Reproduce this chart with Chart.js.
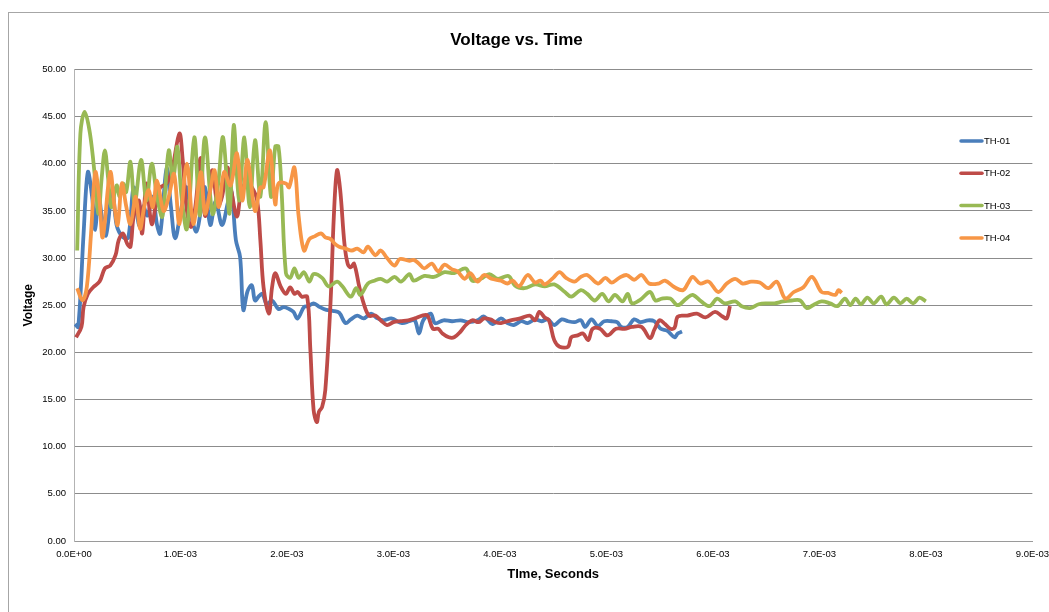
<!DOCTYPE html>
<html>
<head>
<meta charset="utf-8">
<title>Voltage vs. Time</title>
<script src="https://cdn.jsdelivr.net/npm/chart.js@4.4.1/dist/chart.umd.min.js"></script>
<style>
  html, body { margin: 0; padding: 0; background: #fff; }
</style>
</head>
<body>
<canvas id="voltChart" width="1049" height="612"></canvas>
<script>
// Time in milliseconds, voltage in volts: [t, V]
const th01 = [
  [0.01,23.0],[0.04,22.7],[0.09,32.6],[0.13,39.1],[0.17,36.5],[0.20,33.0],[0.23,36.8],[0.26,34.5],[0.30,32.4],[0.36,37.2],
  [0.40,33.5],[0.46,32.2],[0.51,32.2],[0.56,37.5],[0.61,33.5],[0.65,35.5],[0.69,34.5],[0.74,36.5],[0.78,33.5],[0.81,32.6],
  [0.87,39.5],[0.91,35.5],[0.95,32.1],[1.01,35.4],[1.06,37.5],[1.10,34.5],[1.15,32.8],[1.19,35.0],[1.23,37.5],[1.28,33.5],
  [1.33,36.0],[1.39,33.5],[1.45,36.1],[1.48,37.0],[1.52,31.9],[1.56,30.1],[1.59,24.5],[1.63,26.5],[1.67,27.1],[1.70,25.5],
  [1.74,26.0],[1.77,26.2],[1.81,25.1],[1.86,25.5],[1.92,24.6],[1.97,24.8],[2.02,24.6],[2.06,24.3],[2.10,23.6],[2.16,24.8],
  [2.20,24.9],[2.25,25.2],[2.31,24.8],[2.37,24.5],[2.43,24.4],[2.49,24.2],[2.55,23.1],[2.60,23.5],[2.66,23.9],[2.72,23.6],
  [2.79,24.1],[2.85,23.6],[2.91,23.4],[2.98,23.6],[3.08,23.1],[3.15,23.3],[3.20,23.4],[3.24,22.0],[3.28,23.4],[3.35,24.1],
  [3.39,23.1],[3.47,23.4],[3.55,23.3],[3.63,23.4],[3.71,23.2],[3.79,23.4],[3.85,23.8],[3.93,23.0],[4.01,23.6],[4.07,23.1],
  [4.13,22.9],[4.20,23.3],[4.26,23.1],[4.33,23.5],[4.39,23.3],[4.45,23.5],[4.51,22.9],[4.58,23.5],[4.64,23.3],[4.70,23.2],
  [4.76,23.4],[4.80,22.7],[4.86,23.5],[4.92,22.8],[4.98,23.3],[5.05,23.3],[5.10,23.2],[5.14,22.7],[5.20,22.7],[5.26,23.5],
  [5.32,23.2],[5.39,23.4],[5.45,23.3],[5.51,22.5],[5.57,22.3],[5.64,21.6],[5.67,22.0],[5.71,22.2]
];

const th02 = [
  [0.02,21.6],[0.07,22.7],[0.09,24.8],[0.13,26.2],[0.18,26.9],[0.24,27.5],[0.29,28.9],[0.34,29.2],[0.39,30.3],[0.42,31.9],
  [0.46,32.6],[0.50,31.5],[0.53,31.2],[0.56,34.4],[0.61,36.1],[0.64,32.6],[0.68,37.9],[0.73,33.6],[0.78,36.5],[0.81,37.5],
  [0.87,37.9],[0.92,39.3],[0.99,43.2],[1.02,40.5],[1.06,35.0],[1.10,33.3],[1.14,35.5],[1.19,40.6],[1.23,34.5],[1.27,36.5],
  [1.30,39.3],[1.35,35.5],[1.39,36.5],[1.44,39.6],[1.48,37.0],[1.53,34.4],[1.57,37.0],[1.62,38.0],[1.67,37.5],[1.72,36.1],
  [1.75,31.9],[1.78,26.9],[1.83,24.1],[1.86,26.9],[1.89,28.4],[1.94,27.0],[1.99,26.2],[2.03,26.9],[2.07,26.2],[2.10,26.4],
  [2.14,25.9],[2.19,25.9],[2.22,20.2],[2.25,13.9],[2.28,12.6],[2.30,13.7],[2.33,14.2],[2.36,16.0],[2.41,25.5],[2.44,34.4],
  [2.47,39.3],[2.50,37.2],[2.54,31.5],[2.57,29.4],[2.60,29.0],[2.63,29.4],[2.68,26.9],[2.72,25.2],[2.77,23.9],[2.83,23.9],
  [2.88,23.4],[2.94,22.9],[3.00,23.2],[3.07,23.3],[3.14,23.4],[3.20,23.6],[3.27,23.9],[3.32,23.9],[3.37,22.5],[3.42,22.5],
  [3.46,22.0],[3.52,21.6],[3.57,21.6],[3.63,22.2],[3.68,22.9],[3.74,23.4],[3.80,23.2],[3.85,23.6],[3.91,23.5],[3.96,23.2],
  [4.01,23.1],[4.10,23.4],[4.19,23.6],[4.28,23.9],[4.33,23.4],[4.37,24.3],[4.42,23.7],[4.46,23.4],[4.51,21.3],[4.56,20.6],
  [4.64,20.6],[4.67,21.6],[4.73,21.8],[4.78,22.0],[4.83,21.3],[4.87,22.5],[4.94,22.5],[5.01,21.8],[5.09,22.5],[5.17,22.5],
  [5.24,22.7],[5.33,22.7],[5.41,21.5],[5.45,22.4],[5.50,23.4],[5.55,23.0],[5.60,22.5],[5.64,22.6],[5.67,23.8],[5.76,23.9],
  [5.85,24.1],[5.93,23.7],[6.02,24.3],[6.09,23.8],[6.13,23.6],[6.16,24.9]
];

const th03 = [
  [0.03,30.8],[0.06,43.2],[0.10,45.5],[0.15,43.2],[0.20,38.2],[0.23,34.7],[0.26,38.5],[0.29,41.4],[0.32,38.5],[0.35,35.4],
  [0.40,37.7],[0.43,36.5],[0.46,37.9],[0.49,37.0],[0.53,40.2],[0.57,35.8],[0.63,40.4],[0.68,36.1],[0.73,40.0],[0.78,36.5],
  [0.83,34.4],[0.89,41.4],[0.93,38.2],[0.97,41.8],[1.01,36.5],[1.06,33.1],[1.13,42.8],[1.18,34.5],[1.23,42.8],[1.30,34.7],
  [1.35,37.5],[1.40,42.8],[1.46,34.7],[1.50,44.1],[1.55,36.1],[1.60,42.8],[1.65,35.4],[1.70,42.5],[1.75,36.5],[1.80,44.4],
  [1.85,36.5],[1.89,41.8],[1.92,41.8],[1.95,37.0],[1.99,28.4],[2.03,27.9],[2.07,28.9],[2.11,27.9],[2.16,28.5],[2.21,27.5],
  [2.25,28.3],[2.33,27.9],[2.39,27.0],[2.47,27.5],[2.52,27.0],[2.60,25.9],[2.65,26.8],[2.69,26.1],[2.76,27.3],[2.82,27.6],
  [2.88,27.8],[2.94,27.5],[3.01,28.0],[3.07,27.5],[3.15,28.3],[3.19,27.6],[3.29,28.1],[3.38,28.0],[3.48,28.5],[3.57,28.4],
  [3.68,28.9],[3.74,27.6],[3.82,27.8],[3.90,28.3],[3.98,27.8],[4.08,28.1],[4.14,27.1],[4.23,26.8],[4.33,27.2],[4.42,27.0],
  [4.51,27.2],[4.61,26.4],[4.67,25.9],[4.76,26.6],[4.82,26.2],[4.89,25.5],[4.96,26.2],[5.02,25.4],[5.08,26.1],[5.15,25.4],
  [5.20,26.2],[5.24,25.2],[5.32,25.6],[5.41,26.4],[5.46,25.5],[5.52,25.7],[5.60,25.7],[5.67,25.0],[5.75,25.7],[5.81,26.1],
  [5.89,25.4],[5.97,24.9],[6.04,25.7],[6.11,25.2],[6.21,25.4],[6.27,24.9],[6.35,24.7],[6.43,25.1],[6.51,25.2],[6.58,25.2],
  [6.66,25.4],[6.74,25.5],[6.82,25.5],[6.88,24.7],[6.94,25.0],[7.02,25.4],[7.10,25.2],[7.17,24.9],[7.24,25.7],[7.29,25.0],
  [7.34,25.7],[7.39,25.1],[7.45,25.8],[7.51,25.2],[7.58,25.9],[7.63,25.1],[7.70,25.8],[7.76,25.2],[7.82,25.7],[7.88,25.2],
  [7.94,25.8],[8.00,25.4]
];

const th04 = [
  [0.03,26.8],[0.08,25.5],[0.12,26.9],[0.16,32.6],[0.20,39.1],[0.24,36.0],[0.27,32.2],[0.34,39.1],[0.38,35.5],[0.41,33.5],
  [0.45,37.9],[0.49,35.5],[0.53,33.6],[0.58,36.5],[0.62,33.1],[0.66,35.5],[0.70,37.2],[0.74,35.4],[0.78,38.2],[0.84,35.0],
  [0.89,36.5],[0.94,38.9],[0.99,33.6],[1.06,40.0],[1.12,33.6],[1.19,39.1],[1.23,34.7],[1.28,37.2],[1.32,39.3],[1.36,35.4],
  [1.41,39.1],[1.47,37.7],[1.53,41.1],[1.58,36.1],[1.63,40.4],[1.70,35.0],[1.75,37.5],[1.78,37.5],[1.84,41.4],[1.89,35.7],
  [1.92,37.9],[1.99,37.9],[2.02,37.5],[2.07,39.6],[2.11,34.4],[2.16,30.8],[2.21,32.0],[2.26,32.3],[2.32,32.6],[2.36,32.2],
  [2.41,32.0],[2.45,31.5],[2.49,31.2],[2.55,31.0],[2.61,30.8],[2.66,31.0],[2.72,30.6],[2.76,31.2],[2.83,30.3],[2.88,30.8],
  [2.94,30.0],[3.01,29.2],[3.06,29.9],[3.15,29.7],[3.19,29.8],[3.24,29.4],[3.29,28.9],[3.36,29.4],[3.42,28.6],[3.48,29.3],
  [3.55,28.8],[3.60,28.6],[3.67,27.8],[3.72,28.4],[3.79,27.5],[3.85,28.2],[3.92,27.8],[4.01,27.6],[4.07,27.3],[4.12,27.6],
  [4.18,27.0],[4.26,28.2],[4.33,27.4],[4.38,27.6],[4.42,27.2],[4.50,27.9],[4.56,28.5],[4.62,27.9],[4.70,27.5],[4.76,28.0],
  [4.82,28.2],[4.92,27.3],[4.99,27.9],[5.05,27.4],[5.12,27.9],[5.19,28.2],[5.26,27.7],[5.33,28.2],[5.40,27.3],[5.49,27.3],
  [5.55,27.6],[5.64,26.9],[5.72,26.6],[5.77,27.4],[5.81,28.0],[5.88,27.3],[5.96,27.5],[6.05,26.4],[6.13,27.3],[6.21,27.8],
  [6.28,27.3],[6.36,27.5],[6.44,27.4],[6.52,26.8],[6.60,27.5],[6.68,25.7],[6.76,26.4],[6.85,26.9],[6.93,28.0],[7.02,26.4],
  [7.08,26.3],[7.15,26.1],[7.18,26.6],[7.21,26.3]
];

const seriesNames = ['TH-01', 'TH-02', 'TH-03', 'TH-04'];
const seriesData = [th01, th02, th03, th04];
const seriesColors = ['#4A7EBB', '#BE4B48', '#98B954', '#F79646'];

const xTickLabels = ['0.0E+00', '1.0E-03', '2.0E-03', '3.0E-03', '4.0E-03',
                     '5.0E-03', '6.0E-03', '7.0E-03', '8.0E-03', '9.0E-03'];

const FONT = "'Liberation Sans', Arial, sans-serif";

// grey frame round the whole chart
const frame = {
  id: 'frame',
  beforeDraw(chart) {
    const ctx = chart.ctx;
    ctx.save();
    ctx.fillStyle = '#fff';
    ctx.fillRect(0, 0, chart.width, chart.height);
    ctx.strokeStyle = '#a6a6a6';
    ctx.lineWidth = 1;
    ctx.strokeRect(8.5, 12.5, chart.width + 10, chart.height + 10);
    ctx.restore();
  }
};

// legend stacked down the right side, over the plot
const sideLegend = {
  id: 'sideLegend',
  afterDraw(chart, args, opts) {
    const ctx = chart.ctx;
    ctx.save();
    ctx.font = '9.5px ' + FONT;
    ctx.textBaseline = 'middle';
    ctx.fillStyle = '#000';
    chart.data.datasets.forEach((ds, i) => {
      const y = opts.top + i * opts.gap;
      ctx.strokeStyle = ds.borderColor;
      ctx.lineWidth = 3.5;
      ctx.lineCap = 'round';
      ctx.beginPath();
      ctx.moveTo(opts.left, y);
      ctx.lineTo(opts.left + opts.lineLen, y);
      ctx.stroke();
      ctx.fillText(ds.label, opts.left + opts.lineLen + 2, y + 0.5);
    });
    ctx.restore();
  }
};

const ctx = document.getElementById('voltChart').getContext('2d');

const chart = new Chart(ctx, {
  type: 'scatter',
  data: {
    datasets: seriesNames.map((name, i) => ({
      label: name,
      data: seriesData[i].map(p => ({ x: p[0], y: p[1] })),
      borderColor: seriesColors[i],
      backgroundColor: seriesColors[i],
      borderWidth: 3.8,
      showLine: true,
      tension: 0.35,
      pointRadius: 0,
      order: seriesNames.length - i
    }))
  },
  options: {
    responsive: false,
    animation: false,
    layout: { padding: { left: 0, right: 16, top: 0, bottom: 0 } },
    plugins: {
      legend: { display: false },
      tooltip: { enabled: false },
      title: {
        display: true,
        text: 'Voltage vs. Time',
        color: '#000',
        font: { family: FONT, size: 17, weight: 'bold' },
        padding: { top: 30, bottom: 19 }
      },
      sideLegend: { left: 961, top: 141, gap: 32.3, lineLen: 21 }
    },
    scales: {
      x: {
        type: 'linear',
        min: 0,
        max: 9,
        afterFit: s => { s.height = 71; },
        ticks: {
          stepSize: 1,
          autoSkip: false,
          maxRotation: 0,
          padding: 0,
          color: '#000',
          font: { family: FONT, size: 9.5 },
          callback: v => xTickLabels[Math.round(v)]
        },
        grid: { display: false },
        border: { display: true, color: '#9a9a9a' },
        title: {
          display: true,
          text: 'TIme, Seconds',
          color: '#000',
          font: { family: FONT, size: 13, weight: 'bold' },
          padding: { top: 0, bottom: 30 }
        }
      },
      y: {
        min: 0,
        max: 50,
        afterFit: s => { s.width = 74; },
        ticks: {
          stepSize: 5,
          padding: 8,
          color: '#000',
          font: { family: FONT, size: 9.5 },
          callback: v => v.toFixed(2)
        },
        grid: { color: '#8c8c8c', drawTicks: false },
        border: { display: true, color: '#b3b3b3' },
        title: {
          display: true,
          text: 'Voltage',
          color: '#000',
          font: { family: FONT, size: 12, weight: 'bold' },
          padding: { top: 21, bottom: 0 }
        }
      }
    }
  },
  plugins: [frame, sideLegend]
});
</script>
</body>
</html>
